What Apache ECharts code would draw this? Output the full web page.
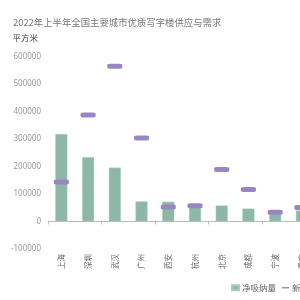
<!DOCTYPE html>
<html>
<head>
<meta charset="utf-8">
<script src="https://cdn.jsdelivr.net/npm/echarts@6/dist/echarts.min.js"></script>
<style>
  html, body { margin: 0; padding: 0; overflow: hidden; background: #fff; }
  #chart { width: 350px; height: 300px; }
</style>
</head>
<body>
<div id="chart"></div>
<script>
const cities = ['上海', '深圳', '武汉', '广州', '西安', '杭州', '北京', '成都', '宁波', '重庆', '天津'];
const netAbsorption = [318000, 234000, 196000, 73000, 72000, 60000, 58000, 47000, 30000, 40000, 35000];
const newSupply = [144000, 387000, 565000, 304000, 53000, 57000, 189000, 116000, 34000, 51000, 80000];

const chart = echarts.init(document.getElementById('chart'));

chart.setOption({
  animation: false,
  title: {
    text: '2022年上半年全国主要城市优质写字楼供应与需求',
    left: 8,
    top: 13,
    textStyle: { fontSize: 9.4, fontWeight: 'normal', color: '#777', fontFamily: 'Noto Sans CJK SC' },
  },
  legend: {
    bottom: 3,
    left: 226,
    itemWidth: 7,
    itemHeight: 5,
    itemGap: 6,
    textStyle: { fontSize: 8.5, color: '#666', fontFamily: 'Noto Sans CJK SC', padding: [0, 0, 0, -2] },
    data: [
      { name: '净吸纳量', icon: 'rect', itemStyle: { color: '#8db8a8' } },
      { name: '新增供应量', icon: 'path://M0,3 L10,3 L10,5 L0,5 Z', itemStyle: { color: '#9a85c0' } },
    ],
  },
  grid: { left: 48, right: 8, top: 56.5, bottom: 51 },
  xAxis: [
    {
      // zero line with ticks
      type: 'category',
      data: cities,
      axisLine: { onZero: true, lineStyle: { color: '#bbb' } },
      axisTick: { show: true, length: 3, lineStyle: { color: '#bbb' } },
      axisLabel: { show: false },
    },
    {
      // labels at the bottom of the grid
      type: 'category',
      data: cities,
      position: 'bottom',
      axisLine: { show: false, onZero: false },
      axisTick: { show: false },
      axisLabel: {
        rotate: 90,
        margin: 5,
        fontSize: 7.5,
        color: '#666',
        fontFamily: 'Noto Sans CJK SC',
      },
    },
  ],
  yAxis: {
    type: 'value',
    min: -100000,
    max: 600000,
    interval: 100000,
    name: '平方米',
    nameGap: 14,
    nameTextStyle: { fontSize: 8.5, color: '#444', align: 'right', padding: [0, 10, 0, 0], fontFamily: 'Noto Sans CJK SC' },
    axisLine: { show: false },
    axisTick: { show: false },
    splitLine: { show: false },
    axisLabel: {
      fontSize: 8,
      color: '#999',
      margin: 7,
      fontFamily: 'Noto Sans',
      formatter: (v) => String(v),
    },
  },
  series: [
    {
      name: '净吸纳量',
      type: 'bar',
      barWidth: 12,
      data: netAbsorption,
      itemStyle: { color: '#8db8a8', borderColor: '#a9cbbd', borderWidth: 0.5 },
    },
    {
      name: '新增供应量',
      type: 'scatter',
      symbol: 'roundRect',
      symbolSize: [15, 5],
      data: newSupply,
      itemStyle: { color: '#9a85c0', opacity: 1 },
      z: 3,
    },
  ],
});
</script>
</body>
</html>
